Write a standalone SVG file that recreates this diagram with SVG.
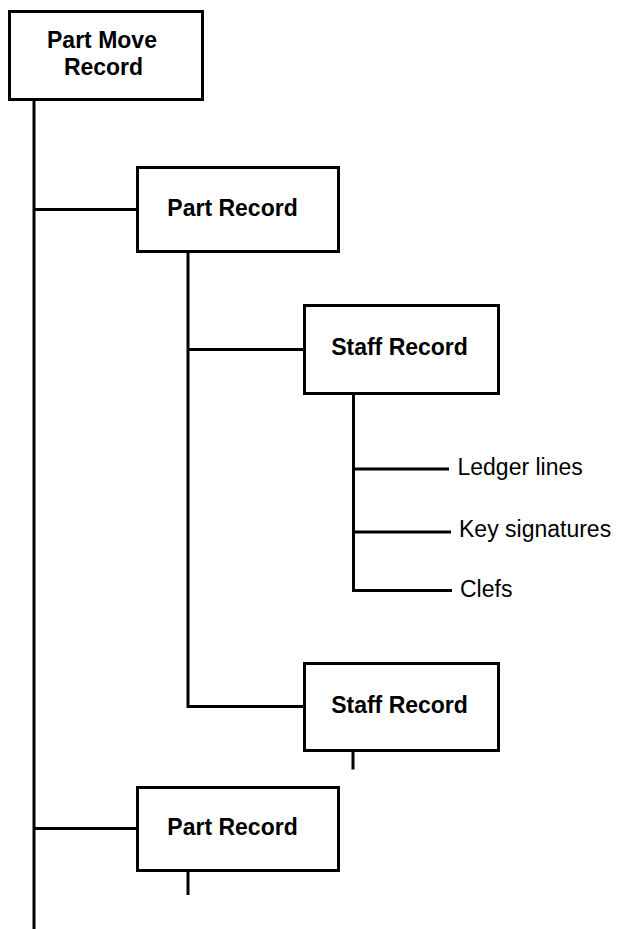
<svg xmlns="http://www.w3.org/2000/svg" width="618" height="929" viewBox="0 0 618 929">
<style>
.box{fill:#fff;stroke:#000;stroke-width:3}
.ln{fill:none;stroke:#000;stroke-width:3}
.b{font-family:"Liberation Sans",Arial,sans-serif;font-weight:bold;font-size:23px;fill:#000;text-anchor:middle}
.r{font-family:"Liberation Sans",Arial,sans-serif;font-size:23px;fill:#000}
</style>
<rect width="618" height="929" fill="#fff"/>
<g id="connectors">
<path class="ln" d="M34 101V929"/>
<path class="ln" d="M34 209.5H137.5"/>
<path class="ln" d="M34 828.5H137.5"/>
<path class="ln" d="M188 253V706.5H304.5"/>
<path class="ln" d="M188 349.5H304.5"/>
<path class="ln" d="M353.5 395V590.5H452"/>
<path class="ln" d="M353.5 469H449"/>
<path class="ln" d="M353.5 532H451"/>
<path class="ln" d="M353 752V769.5"/>
<path class="ln" d="M188 872V895"/>
</g>
<g id="part-move-record">
<rect class="box" x="9.5" y="11.5" width="193" height="88"/>
<text class="b" x="102" y="47.5">Part Move</text>
<text class="b" x="103.5" y="75">Record</text>
</g>
<g id="part-record-1">
<rect class="box" x="137.5" y="167.5" width="201" height="84"/>
<text class="b" x="232.5" y="215.5">Part Record</text>
</g>
<g id="staff-record-1">
<rect class="box" x="304.5" y="305.5" width="194" height="88"/>
<text class="b" x="399.5" y="355">Staff Record</text>
</g>
<g id="ledger-lines">
<text class="r" x="457.5" y="475">Ledger lines</text>
</g>
<g id="key-signatures">
<text class="r" x="459" y="537">Key signatures</text>
</g>
<g id="clefs">
<text class="r" x="460" y="597">Clefs</text>
</g>
<g id="staff-record-2">
<rect class="box" x="304.5" y="663.5" width="194" height="87"/>
<text class="b" x="399.5" y="712.5">Staff Record</text>
</g>
<g id="part-record-2">
<rect class="box" x="137.5" y="787.5" width="201" height="83"/>
<text class="b" x="232.5" y="835">Part Record</text>
</g>
</svg>
